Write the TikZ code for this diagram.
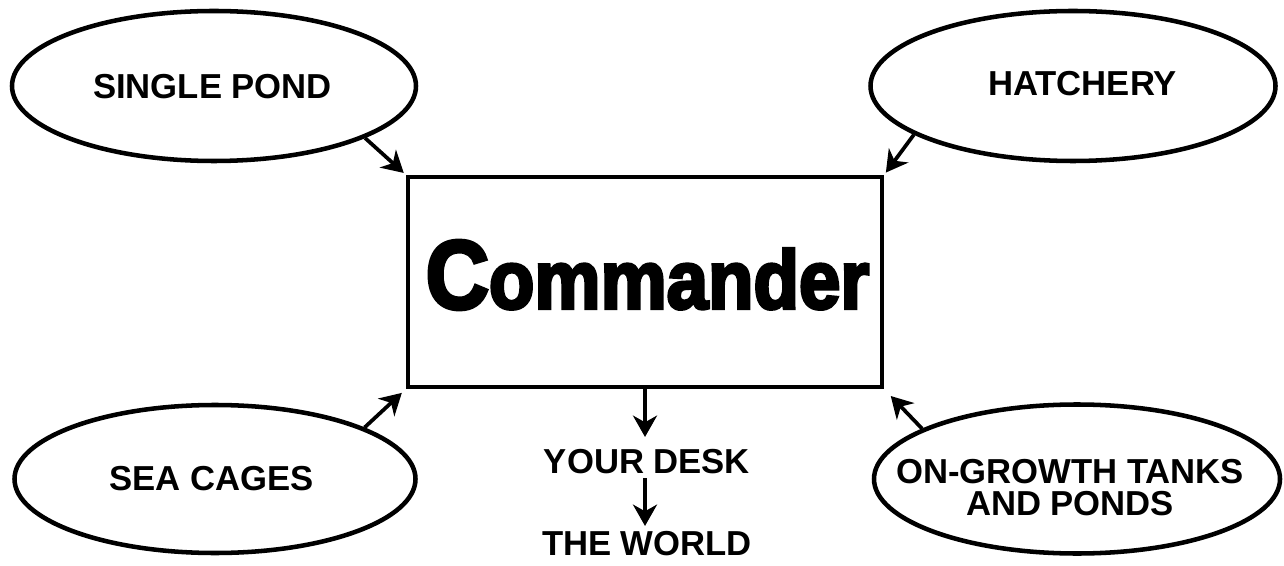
\documentclass[tikz,border=0pt]{standalone}
\usepackage{fontspec}
\setmainfont{Liberation Sans}
\newfontfamily\heavyfont{Liberation Sans}[BoldFeatures={FakeBold=4}]
\usetikzlibrary{shapes.geometric,arrows.meta}
\begin{document}
\begin{tikzpicture}[x=0.75pt, y=-0.75pt,
  oval/.style={ellipse, draw, line width=3.4pt, inner sep=0pt},
  lbl/.style={font=\bfseries\fontsize{26}{24.5}\selectfont, inner sep=0pt, align=center},
  arr/.style={-{Stealth[length=16pt,width=18pt,inset=5pt]}, line width=2.8pt},
  box/.style={draw, rectangle, line width=3.4pt, inner sep=0pt}]
\useasboundingbox (0,0) rectangle (1284,566);
\node[oval, minimum width=303pt, minimum height=112.5pt] (sp) at (214,86) {};
\node[lbl] (spt) at (212.5,87) {SINGLE POND};
\node[oval, minimum width=303.75pt, minimum height=112.5pt] (ha) at (1073,86) {};
\node[lbl] (hat) at (1082.5,83.5) {HATCHERY};
\node[oval, minimum width=300.75pt, minimum height=111pt] (sc) at (215,479) {};
\node[lbl] (sct) at (211.7,479) {SEA CAGES};
\node[oval, minimum width=304.5pt, minimum height=111.75pt] (og) at (1077,479) {};
\node[lbl] (ogt) at (1070,487.5) {ON-GROWTH TANKS\\AND PONDS};
\node[box, minimum width=355.5pt, minimum height=157.5pt] (cmd) at (645,282) {};
\node[inner sep=0pt] (cmdt) at (647.5,275) {\heavyfont\bfseries\scalebox{0.9}[1]{\fontsize{73}{73}\selectfont C\fontsize{62}{62}\selectfont ommander}};
\node[lbl] (desk) at (647,461.5) {YOUR DESK};
\node[lbl] (world) at (647,543.5) {THE WORLD};
\draw[arr, shorten >=2pt] (sp.-19.4) -- (cmd.north west);
\draw[arr, shorten >=2pt] (ha.197.4) -- (cmd.north east);
\draw[arr, shorten >=4pt] (sc.19.8) -- (cmd.south west);
\draw[arr, shorten >=7pt] (og.162.1) -- (cmd.south east);
\draw[arr, shorten >=9pt] (cmd.south) -- (cmd.south |- desk.north);
\draw[arr, shorten <=3pt, shorten >=3.75pt] (desk.south -| cmd.south) -- (cmd.south |- world.north);
\end{tikzpicture}
\end{document}
